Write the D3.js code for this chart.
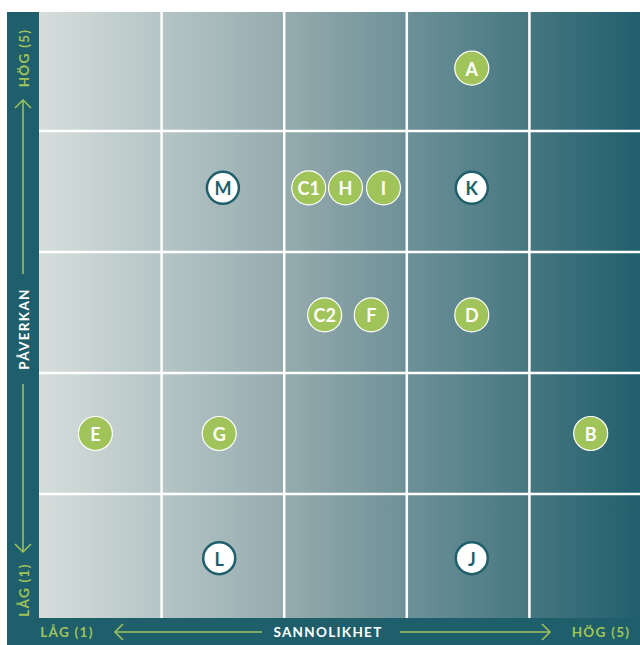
<!DOCTYPE html>
<html>
<head>
<meta charset="utf-8">
<script src="https://cdn.jsdelivr.net/npm/d3@7"></script>
<style>
  html, body { margin: 0; padding: 0; background: #ffffff; }
  svg { display: block; }
</style>
</head>
<body>
<svg id="chart" width="640" height="645"></svg>
<script>
// Risk items: probability (sannolikhet) and impact (påverkan) on a 1–5 scale,
// with small offsets where several risks share one cell.
const riskIds     = ["A", "M", "C1", "H", "I", "K", "C2", "F", "D", "E", "G", "B", "L", "J"];
const probability = [4.03, 2.0, 2.7, 3.0, 3.31, 4.03, 2.83, 3.21, 4.03, 0.96, 1.97, 5.0, 1.97, 4.03];
const impact      = [5.02, 4.03, 4.03, 4.03, 4.03, 4.03, 2.98, 2.98, 2.98, 2.0, 2.0, 2.0, 0.97, 0.97];
// Risks drawn with an outlined (white) marker instead of a filled one
const outlined    = ["M", "K", "L", "J"];

const levels      = [1, 2, 3, 4, 5];
const xAxisTitle  = "SANNOLIKHET";
const yAxisTitle  = "PÅVERKAN";
const lowLabel    = "LÅG (1)";
const highLabel   = "HÖG (5)";

const teal  = "#1f5f6c";
const green = "#a1c45a";
const font  = "Lato, 'Open Sans', sans-serif";

const svg = d3.select("#chart");

// plot area
const plot = { left: 39, right: 640, top: 12, bottom: 618 };
const x = d3.scaleLinear().domain([0.5, 5.5]).range([39, 652]);
const y = d3.scaleLinear().domain([0.5, 5.5]).range([615, 10]);

const defs = svg.append("defs");
const grad = defs.append("linearGradient").attr("id", "bg")
  .attr("x1", "0%").attr("x2", "100%").attr("y1", "0%").attr("y2", "0%");
grad.append("stop").attr("offset", "0%").attr("stop-color", "#d6dedc");
grad.append("stop").attr("offset", "45%").attr("stop-color", "#8ea6aa");
grad.append("stop").attr("offset", "100%").attr("stop-color", "#215f6c");

defs.append("clipPath").attr("id", "plotClip").append("rect")
  .attr("x", plot.left).attr("y", plot.top)
  .attr("width", plot.right - plot.left).attr("height", plot.bottom - plot.top);

// axis bands
svg.append("rect").attr("x", 7).attr("y", plot.top)
  .attr("width", plot.left - 7).attr("height", 645 - plot.top).attr("fill", teal);
svg.append("rect").attr("x", 7).attr("y", plot.bottom)
  .attr("width", 640 - 7).attr("height", 645 - plot.bottom).attr("fill", teal);

// gradient background
svg.append("rect").attr("x", plot.left).attr("y", plot.top)
  .attr("width", plot.right - plot.left).attr("height", plot.bottom - plot.top)
  .attr("fill", "url(#bg)");

// white grid between cells
const grid = svg.append("g").attr("clip-path", "url(#plotClip)")
  .attr("stroke", "#ffffff").attr("stroke-width", 2.5);
grid.selectAll("line.v").data(levels.slice(0, 4)).join("line").attr("class", "v")
  .attr("x1", d => x(d + 0.5)).attr("x2", d => x(d + 0.5))
  .attr("y1", plot.top).attr("y2", plot.bottom);
grid.selectAll("line.h").data(levels.slice(0, 4)).join("line").attr("class", "h")
  .attr("y1", d => y(d + 0.5)).attr("y2", d => y(d + 0.5))
  .attr("x1", plot.left).attr("x2", plot.right);

// arrows and axis labels
const arrowStyle = g => g.attr("stroke", green).attr("stroke-width", 1.5).attr("fill", "none");
const ax = svg.append("g").call(arrowStyle);

// vertical axis (left band)
const cx = 23;
ax.append("line").attr("x1", cx).attr("x2", cx).attr("y1", 100).attr("y2", 274);
ax.append("path").attr("d", `M${cx - 8},${108} L${cx},${100} L${cx + 8},${108}`);
ax.append("line").attr("x1", cx).attr("x2", cx).attr("y1", 384).attr("y2", 552);
ax.append("path").attr("d", `M${cx - 8},${544} L${cx},${552} L${cx + 8},${544}`);

// horizontal axis (bottom band)
const cy = 632;
ax.append("line").attr("x1", 115).attr("x2", 262).attr("y1", cy).attr("y2", cy);
ax.append("path").attr("d", `M${123},${cy - 8} L${115},${cy} L${123},${cy + 8}`);
ax.append("line").attr("x1", 400).attr("x2", 550).attr("y1", cy).attr("y2", cy);
ax.append("path").attr("d", `M${542},${cy - 8} L${550},${cy} L${542},${cy + 8}`);

const label = (tx, ty, text, color, rot) => svg.append("text")
  .attr("transform", `translate(${tx},${ty}) rotate(${rot})`)
  .attr("text-anchor", "middle").attr("dominant-baseline", "central")
  .attr("font-family", font).attr("font-weight", 700).attr("font-size", 13.5)
  .attr("letter-spacing", 1.3).attr("fill", color).text(text);

label(cx + 1, 58, highLabel, green, -90);
label(cx + 1, 329, yAxisTitle, "#ffffff", -90);
label(cx + 1, 590, lowLabel, green, -90);
label(67, cy, lowLabel, green, 0);
label(328, cy, xAxisTitle, "#ffffff", 0);
label(601, cy, highLabel, green, 0);

// risk markers
const risks = riskIds.map((id, i) => ({
  id, p: probability[i], s: impact[i], outline: outlined.includes(id)
}));

const marks = svg.append("g").selectAll("g").data(risks).join("g")
  .attr("transform", d => `translate(${x(d.p)},${y(d.s)})`);

marks.append("circle").attr("r", d => d.outline ? 16 : 17)
  .attr("fill", d => d.outline ? "#ffffff" : green)
  .attr("stroke", d => d.outline ? teal : "#ffffff")
  .attr("stroke-width", d => d.outline ? 2.5 : 1.2);

marks.append("text")
  .attr("text-anchor", "middle").attr("dominant-baseline", "central").attr("dy", 0.5)
  .attr("font-family", font).attr("font-weight", 700).attr("font-size", 18)
  .attr("fill", d => d.outline ? teal : "#ffffff")
  .text(d => d.id);
</script>
</body>
</html>
